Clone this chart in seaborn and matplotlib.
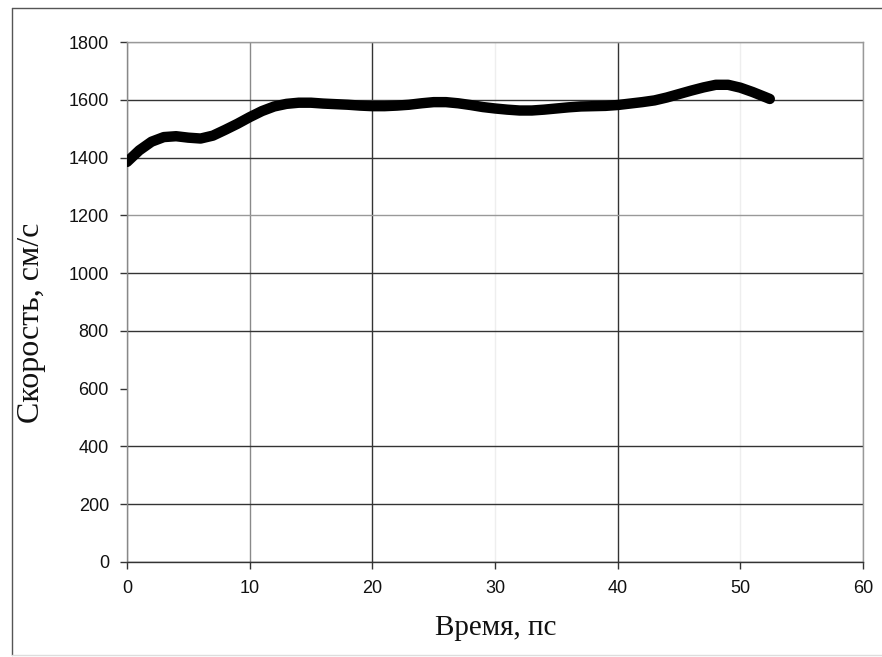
import matplotlib
matplotlib.use("Agg")
import matplotlib.pyplot as plt
from matplotlib.lines import Line2D
import seaborn as sns
import pandas as pd

# Measured speed of the front over time
time_ps = [0, 1, 2, 3, 4, 5, 6, 7, 8, 9, 10, 11, 12, 13, 14, 15, 16, 17, 18,
           19, 20, 21, 22, 23, 24, 25, 26, 27, 28, 29, 30, 31, 32, 33, 34, 35,
           36, 37, 38, 39, 40, 41, 42, 43, 44, 45, 46, 47, 48, 49, 50, 51, 52,
           52.4]
speed_cm_s = [1385, 1425, 1455, 1471, 1474, 1469, 1466, 1476, 1496, 1517,
              1540, 1561, 1577, 1586, 1590, 1590, 1587, 1585, 1583, 1580,
              1578, 1578, 1580, 1583, 1588, 1592, 1592, 1588, 1582, 1575,
              1570, 1566, 1563, 1563, 1566, 1570, 1574, 1577, 1578, 1579,
              1582, 1587, 1592, 1598, 1608, 1620, 1632, 1643, 1652, 1652,
              1642, 1627, 1610, 1603]

x_ticks = [0, 10, 20, 30, 40, 50, 60]
y_ticks = [0, 200, 400, 600, 800, 1000, 1200, 1400, 1600, 1800]

df = pd.DataFrame({"t": time_ps, "v": speed_cm_s})

sns.set_style("white")
plt.rcParams["font.family"] = ["Liberation Sans", "DejaVu Sans"]

fig = plt.figure(figsize=(8.82, 6.57), dpi=100)
ax = fig.add_axes([0.144, 0.1446, 0.8345, 0.7914])

sns.lineplot(data=df, x="t", y="v", ax=ax, color="black", linewidth=7.5,
             solid_capstyle="round", solid_joinstyle="round", zorder=5)

ax.set_xlim(0, 60)
ax.set_ylim(0, 1800)
ax.set_xticks(x_ticks)
ax.set_yticks(y_ticks)
ax.set_xticklabels([str(v) for v in x_ticks])
ax.set_yticklabels([str(v) for v in y_ticks])

ax.tick_params(axis="both", which="major", direction="out", length=5,
               width=1, color="#333333", labelsize=13, labelcolor="#111111")
ax.tick_params(axis="x", pad=8)
ax.tick_params(axis="y", pad=8)
ax.xaxis.set_ticks_position("bottom")
ax.yaxis.set_ticks_position("left")

ax.grid(True, color="#333333", linewidth=1.0)
# grid shades as they appear on the printed sheet
x_grid_colors = ["#888888", "#8a8a8a", "#333333", "#eeeeee", "#333333",
                 "#eeeeee", "#999999"]
y_grid_colors = ["#333333", "#333333", "#333333", None, "#333333",
                 "#333333", "#999999", "#333333", "#333333", "#999999"]
for gl, c in zip(ax.xaxis.get_gridlines(), x_grid_colors):
    gl.set_color(c)
for gl, c in zip(ax.yaxis.get_gridlines(), y_grid_colors):
    if c is None:
        gl.set_visible(False)
    else:
        gl.set_color(c)
ax.set_axisbelow(True)

for side, c in [("left", "#888888"), ("right", "#999999"),
                ("top", "#999999"), ("bottom", "#333333")]:
    ax.spines[side].set_visible(True)
    ax.spines[side].set_color(c)
    ax.spines[side].set_linewidth(1.0)

ax.set_xlabel("Время, пс", family=["Liberation Serif", "DejaVu Serif"],
              fontsize=21, color="#111111")
ax.set_ylabel("Скорость, см/с", family=["Liberation Serif", "DejaVu Serif"],
              fontsize=23, color="#111111")
ax.xaxis.set_label_coords(0.501, -0.102)
ax.yaxis.set_label_coords(-0.110, 0.46)

# outer chart frame
fig.add_artist(Line2D([12 / 882, 12 / 882], [1 - 8 / 657, 1 - 655 / 657],
                      transform=fig.transFigure, color="#555555", lw=1))
fig.add_artist(Line2D([12 / 882, 1.0], [1 - 8 / 657, 1 - 8 / 657],
                      transform=fig.transFigure, color="#555555", lw=1))
fig.add_artist(Line2D([12 / 882, 1.0], [1 - 655 / 657, 1 - 655 / 657],
                      transform=fig.transFigure, color="#dddddd", lw=1))

fig.savefig("out.png", dpi=100)
